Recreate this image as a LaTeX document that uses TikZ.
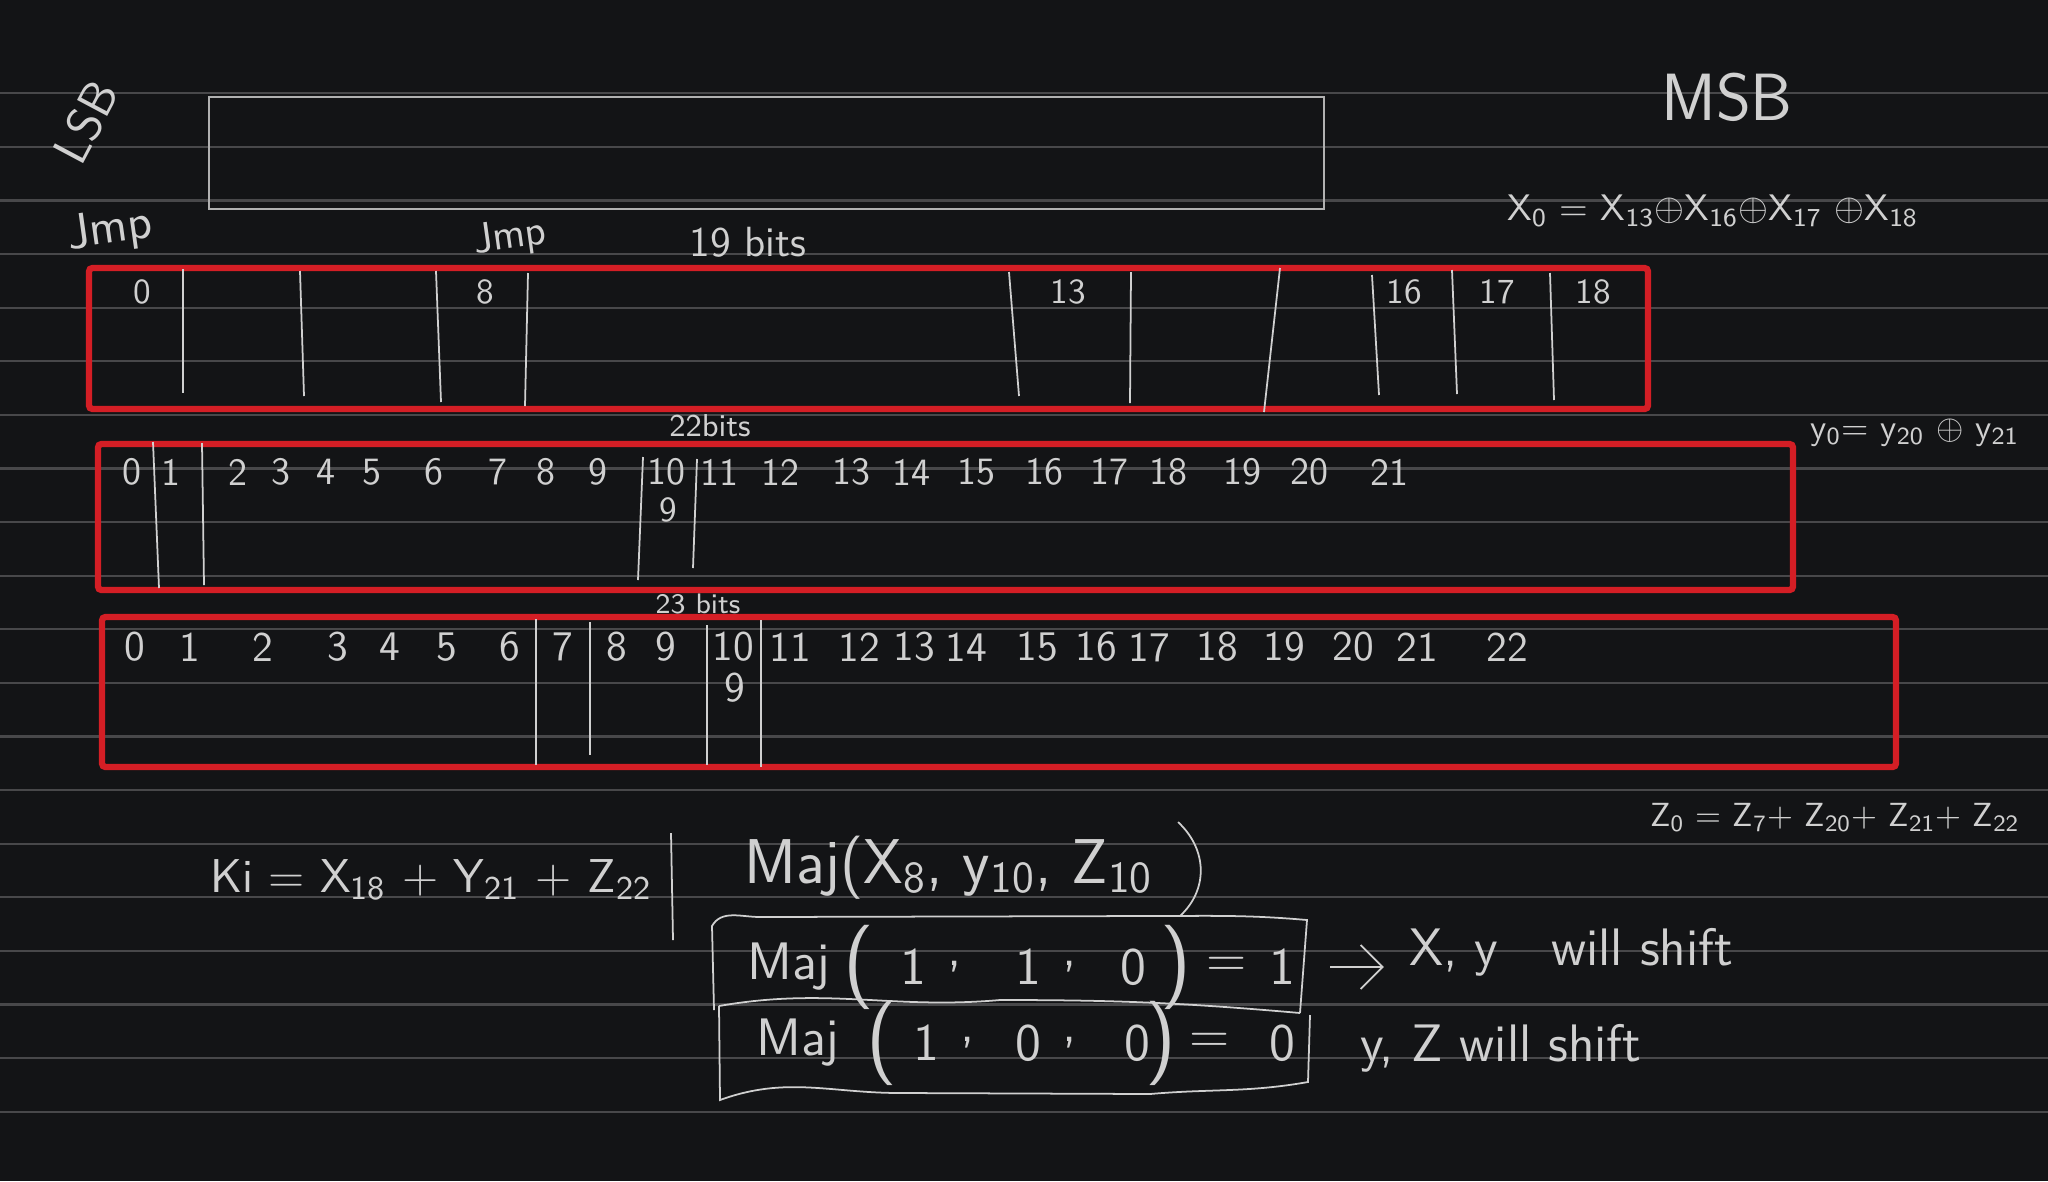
\documentclass[tikz,border=0pt]{standalone}
\usetikzlibrary{arrows.meta,fit}
\definecolor{board}{RGB}{19,20,22}
\definecolor{ruling}{RGB}{72,72,74}
\definecolor{chalk}{RGB}{208,208,208}
\definecolor{marker}{RGB}{212,30,37}
\newcommand\hw[1]{\fontsize{#1}{#1}\selectfont}
\newcommand\lo[1]{\textsubscript{#1}}
\tikzset{
  >={Straight Barb[length=2.2mm]},
  rule/.style={draw=ruling,line width=0.6pt},
  regbox/.style={draw=marker,line width=1.8pt,rounded corners=1pt,inner sep=0pt},
  frame/.style={draw=chalk!85!black,line width=0.8pt},
  pen/.style={draw=chalk,line width=0.5pt},
  note/.style={text=chalk,font=\sffamily\hw{#1},inner sep=1pt},
  note/.default=12pt,
}

\begin{document}
\begin{tikzpicture}[x=0.01cm,y=-0.01cm]
  \useasboundingbox (0,0) rectangle (2048,1181);
  \fill[board] (0,0) rectangle (2048,1181);
  \foreach \k in {0,...,19}
    \draw[rule] (0,93.3+53.6*\k) -- (2048,93.3+53.6*\k);
  % registers
  \draw[frame] (209,97) rectangle (1324,209);
  \node[regbox,fit={(89,268) (1648,409)}] (regx) {};
  \node[regbox,fit={(98,444) (1793,590)}] (regy) {};
  \node[regbox,fit={(102,617) (1896,767)}] (regz) {};
  \foreach \a/\b/\c/\d in {183/269/183/393,300/271/304/396,436/271/441/402,528/273/525/406,
      1009/272/1019/396,1131/272/1130/403,1280/268/1264/412,1372/275/1379/395,1452/270/1457/394,1550/273/1554/400,
      153/442/159/588,202/443/204/585,643/457/638/580,697/459/693/568,
      536/619/536/765,590/622/590/755,707/625/707/765,761/620/761/767}
    \draw[pen] (\a,\b) -- (\c,\d);
  \foreach \n/\x in {0/142,8/485,13/1068,16/1404,17/1497,18/1593}
    \node[note=10pt] (x\n) at (\x,292) {\n};
  \foreach \n/\x in {0/132,1/171,2/238,3/281,4/326,5/372,6/434,7/498,8/546,9/598,10/666,
      11/719,12/780,13/851,14/911,15/976,16/1044,17/1109,18/1168,19/1242,20/1309,21/1389}
    \node[note=11pt] (y\n) at (\x,472) {\n};
  \node[note=10pt] (y9b) at (668,510) {9};
  \foreach \n/\x in {0/135,1/190,2/263,3/338,4/390,5/447,6/510,7/563,8/617,9/666,10/733,
      11/790,12/859,13/914,14/966,15/1037,16/1096,17/1149,18/1217,19/1284,20/1353,21/1417,22/1507}
    \node[note=12pt] (z\n) at (\x,647) {\n};
  \node[note=12pt] (z9b) at (735,688) {9};
  % labels
  \node[note=14pt,rotate=62] (lsb) at (86,122) {LSB};
  \node[note=14pt,rotate=8] (jmpa) at (110,231) {Jmp};
  \node[note=12pt,rotate=8] (jmpb) at (510,238) {Jmp};
  \node[note=12pt] (bitsx) at (748,242) {19 bits};
  \node[note=9pt] (bitsy) at (710,426) {22bits};
  \node[note=8pt] (bitsz) at (698,604) {23 bits};
  \node[note=19pt] (msb) at (1727,97) {MSB};
  \node[note=10.5pt] (fbx) at (1713,211) {X\lo{0} = X\lo{13}$\oplus$X\lo{16}$\oplus$X\lo{17} $\oplus$X\lo{18}};
  \node[note=10pt] (fby) at (1915,433) {y\lo{0}= y\lo{20} $\oplus$ y\lo{21}};
  \node[note=9.5pt] (fbz) at (1835,818) {Z\lo{0} = Z\lo{7}+ Z\lo{20}+ Z\lo{21}+ Z\lo{22}};
  % majority
  \node[note=13.5pt] (key) at (431,880) {Ki = X\lo{18} + Y\lo{21} + Z\lo{22}};
  \draw[pen] (671,833) -- (673,940);
  \node[note=18pt,anchor=west] (maj) at (740,868) {Maj(X\lo{8}, y\lo{10}, Z\lo{10}};
  \draw[pen] (1178,822) .. controls (1208,850) and (1208,890) .. (1180,916);
  \foreach \t/\x [count=\i] in {Maj/789,{\hw{24pt}(}/859,1/913,{,}/955,1/1028,{,}/1070,0/1133,{\hw{24pt})}/1176,=/1227,1/1282}
    \node[note=15pt] (ma\i) at (\x,967) {\t};
  \foreach \t/\x [count=\i] in {Maj/798,{\hw{24pt}(}/882,1/926,{,}/968,0/1028,{,}/1070,0/1137,{\hw{24pt})}/1161,=/1210,0/1282}
    \node[note=15pt] (mb\i) at (\x,1043) {\t};
  \draw[pen] (714,1010) -- (712,926) to[out=60,in=180] (760,917) -- (1150,916) to[out=0,in=175] (1307,920) -- (1300,1013);
  \draw[pen] (719,1006) to[out=10,in=185] (1000,1000) to[out=0,in=175] (1300,1013);
  \draw[pen] (719,1006) -- (720,1100) to[out=20,in=180] (900,1093) -- (1150,1094) to[out=5,in=190] (1308,1082) -- (1310,1015);
  \coordinate (arr) at (1330,967);
  \node[note=15pt,anchor=west] (shxy) at (1405,952) {X, y\quad will shift};
  \draw[pen,->,shorten >=6pt] (arr) -- (arr -| shxy.west);
  \node[note=15pt,anchor=west] (shyz) at (1356,1048) {y, Z will shift};
\end{tikzpicture}
\end{document}
